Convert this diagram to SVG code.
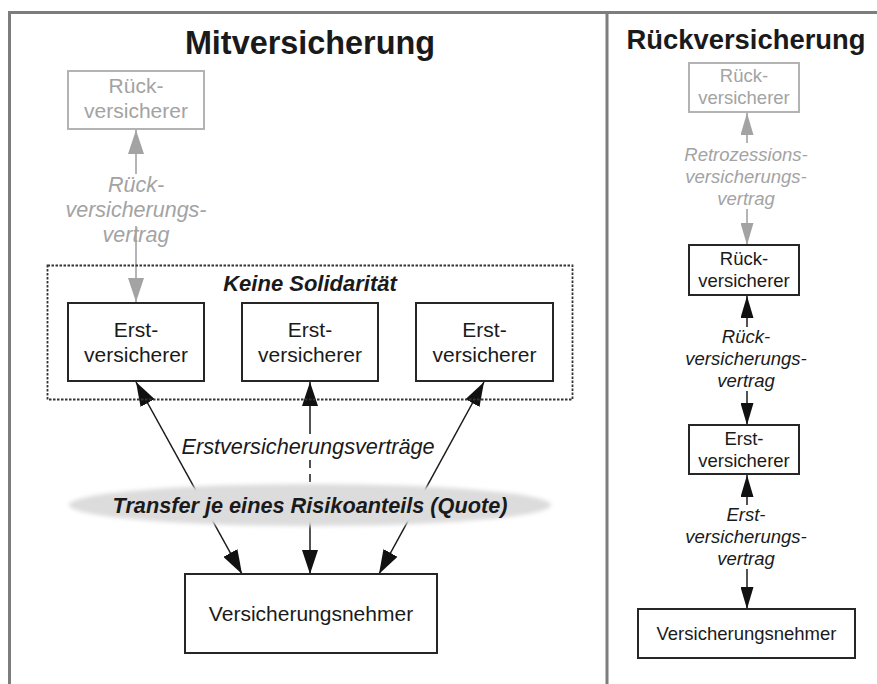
<svg xmlns="http://www.w3.org/2000/svg" width="877" height="684" viewBox="0 0 877 684">
<style>
text{font-family:"Liberation Sans",Arial,sans-serif;text-anchor:middle;fill:#1a1a1a}
.t1{font-size:32.4px;font-weight:bold}
.t2{font-size:27.4px;font-weight:bold}
.b{font-size:21px}
.s{font-size:18.5px}
.i{font-style:italic}
.g{fill:#a3a3a3}
.bx{fill:#fff;stroke:#262626;stroke-width:2}
.gbx{fill:#fff;stroke:#b3b3b3;stroke-width:2}
.ln{stroke:#1a1a1a;stroke-width:1.5;fill:none}
.gln{stroke:#a3a3a3;stroke-width:1.6;fill:none}
.frame{stroke:#7d7d7d;stroke-width:3;fill:none}
</style>
<defs>
<marker id="aB" markerUnits="userSpaceOnUse" markerWidth="24" markerHeight="16" refX="24" refY="8" orient="auto-start-reverse"><path d="M0,0 L24,8 L0,16 z" fill="#111"/></marker>
<marker id="aG" markerUnits="userSpaceOnUse" markerWidth="24" markerHeight="16" refX="24" refY="8" orient="auto-start-reverse"><path d="M0,0 L24,8 L0,16 z" fill="#a3a3a3"/></marker>
<marker id="sB" markerUnits="userSpaceOnUse" markerWidth="22" markerHeight="13" refX="22" refY="6.5" orient="auto-start-reverse"><path d="M0,0 L22,6.5 L0,13 z" fill="#111"/></marker>
<marker id="sG" markerUnits="userSpaceOnUse" markerWidth="22" markerHeight="13" refX="22" refY="6.5" orient="auto-start-reverse"><path d="M0,0 L22,6.5 L0,13 z" fill="#a3a3a3"/></marker>
<filter id="soft" x="-5%" y="-30%" width="110%" height="160%"><feGaussianBlur stdDeviation="2"/></filter>
</defs>
<rect width="877" height="684" fill="#fff"/>
<g id="frame">
<path class="frame" d="M9.5,684 V12.5 H877"/>
<line class="frame" x1="607" y1="12.5" x2="607" y2="684"/>
</g>
<text class="t1" x="310" y="54">Mitversicherung</text>
<text class="t2" x="746" y="49">Rückversicherung</text>

<g id="connectors">
<line class="gln" x1="136" y1="174" x2="136" y2="130" marker-end="url(#aG)"/>
<line class="gln" x1="136" y1="226" x2="136" y2="302" marker-end="url(#aG)"/>
<line class="ln" x1="136" y1="382" x2="242" y2="574" marker-start="url(#aB)" marker-end="url(#aB)"/>
<line class="ln" x1="484" y1="382" x2="379" y2="574" marker-start="url(#aB)" marker-end="url(#aB)"/>
<line class="ln" x1="310" y1="434" x2="310" y2="382" marker-end="url(#aB)"/>
<line class="ln" x1="310" y1="460" x2="310" y2="484" stroke-dasharray="8,6"/>
<line class="ln" x1="310" y1="520" x2="310" y2="574" marker-end="url(#aB)"/>
<line class="gln" x1="747" y1="143" x2="747" y2="113" marker-end="url(#sG)"/>
<line class="gln" x1="747" y1="209" x2="747" y2="245" marker-end="url(#sG)"/>
<line class="ln" x1="747" y1="327" x2="747" y2="296" marker-end="url(#sB)"/>
<line class="ln" x1="747" y1="391" x2="747" y2="425" marker-end="url(#sB)"/>
<line class="ln" x1="747" y1="505" x2="747" y2="475" marker-end="url(#sB)"/>
<line class="ln" x1="747" y1="569" x2="747" y2="609" marker-end="url(#sB)"/>
</g>

<g id="transfer">
<ellipse cx="310" cy="505" rx="241" ry="21" fill="#dcdcdc" filter="url(#soft)"/>
<text class="i" x="310" y="513" style="font-size:21.7px;font-weight:bold">Transfer je eines Risikoanteils (Quote)</text>
</g>
<text class="i" x="308" y="454" style="font-size:21.7px">Erstversicherungsverträge</text>

<g id="labels-left">
<text class="i g" x="136" y="192" style="font-size:21.5px">Rück-</text>
<text class="i g" x="136" y="217" style="font-size:21.5px">versicherungs-</text>
<text class="i g" x="136" y="242" style="font-size:21.5px">vertrag</text>
</g>

<g id="solidaritaet">
<rect x="47.5" y="265.5" width="525" height="134" fill="none" stroke="#333" stroke-width="1.8" stroke-dasharray="2.5,1.5"/>
<text class="i" x="310" y="291" style="font-size:22px;font-weight:bold">Keine Solidarität</text>
</g>

<g id="rv-left">
<rect class="gbx" x="68" y="71" width="136" height="58"/>
<text class="b g" x="136" y="93">Rück-</text>
<text class="b g" x="136" y="118">versicherer</text>
</g>
<g id="ev1">
<rect class="bx" x="68" y="303" width="136" height="78"/>
<text class="b" x="136" y="337">Erst-</text>
<text class="b" x="136" y="362">versicherer</text>
</g>
<g id="ev2">
<rect class="bx" x="242" y="303" width="136" height="78"/>
<text class="b" x="310" y="337">Erst-</text>
<text class="b" x="310" y="362">versicherer</text>
</g>
<g id="ev3">
<rect class="bx" x="416" y="303" width="137" height="78"/>
<text class="b" x="484.5" y="337">Erst-</text>
<text class="b" x="484.5" y="362">versicherer</text>
</g>
<g id="vn-left">
<rect class="bx" x="185" y="574" width="252" height="79"/>
<text class="b" x="311" y="621">Versicherungsnehmer</text>
</g>

<g id="rv-gray">
<rect class="gbx" x="689" y="63" width="110" height="49"/>
<text class="s g" x="744" y="82">Rück-</text>
<text class="s g" x="744" y="104">versicherer</text>
</g>
<g id="labels-right">
<text class="s i g" x="746" y="161">Retrozessions-</text>
<text class="s i g" x="746" y="183">versicherungs-</text>
<text class="s i g" x="746" y="205">vertrag</text>
<text class="s i" x="746" y="343">Rück-</text>
<text class="s i" x="746" y="365">versicherungs-</text>
<text class="s i" x="746" y="387">vertrag</text>
<text class="s i" x="746" y="521">Erst-</text>
<text class="s i" x="746" y="543">versicherungs-</text>
<text class="s i" x="746" y="565">vertrag</text>
</g>
<g id="rv-right">
<rect class="bx" x="689" y="245" width="110" height="50"/>
<text class="s" x="744" y="265">Rück-</text>
<text class="s" x="744" y="287">versicherer</text>
</g>
<g id="ev-right">
<rect class="bx" x="689" y="425" width="110" height="49"/>
<text class="s" x="744" y="445">Erst-</text>
<text class="s" x="744" y="467">versicherer</text>
</g>
<g id="vn-right">
<rect class="bx" x="638" y="609" width="217" height="49"/>
<text class="s" x="746.5" y="640">Versicherungsnehmer</text>
</g>
</svg>
